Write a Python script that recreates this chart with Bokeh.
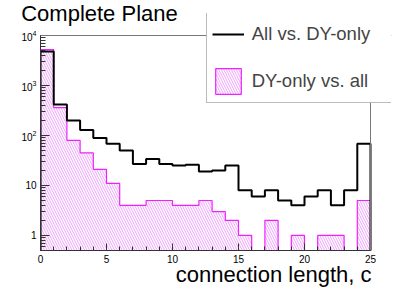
import numpy as np
from bokeh.plotting import figure
from bokeh.models import (Legend, LegendItem, LogTickFormatter, LogTicker,
                          FixedTicker, Title, Span, Range1d)
from bokeh.embed import file_html
from bokeh.resources import INLINE

# ---------------- data ----------------
bin_edges = list(range(0, 26))
all_vs_dy = [4800, 415, 200, 128, 89, 68, 50, 27, 34, 27, 25, 26, 19,
             20, 25, 8, 6, 8, 5, 4, 6, 8, 4, 8, 68]
dy_vs_all = [5250, 360, 80, 45, 21, 11, 4, 4, 5, 5, 4, 4, 5,
             3, 2, 1, 0, 2, 0, 1, 0, 1, 1, 0, 5]
x_ticks = [0, 5, 10, 15, 20, 25]
series_labels = ["All vs. DY-only", "DY-only vs. all"]
title_text = "Complete Plane"
x_title = "connection length, c"

Y_MIN, Y_MAX = 0.5, 1e4
X_MIN, X_MAX = bin_edges[0], bin_edges[-1]
FLOOR = Y_MIN / 100.0
FONT = "Liberation Sans"

# ---------------- layout (pixels) ----------------
W, H = 411, 295
AX_L, AX_R, AX_T, AX_B = 40, 370, 35, 250      # visible axes box
FR_T, FR_R = 13, 391                            # bokeh frame (room for legend)

# extend ranges so that the data box maps onto the visible axes box
x_end = X_MIN + (X_MAX - X_MIN) * (FR_R - AX_L) / (AX_R - AX_L)
dec = np.log10(Y_MAX) - np.log10(Y_MIN)
y_end = 10 ** (np.log10(Y_MIN) + dec * (AX_B - FR_T) / (AX_B - AX_T))


def step_path(edges, vals):
    e = np.asarray(edges, float)
    v = np.asarray(vals, float)
    v = np.where(v > 0, v, FLOOR)
    xs = np.concatenate([[e[0]], np.repeat(e, 2)[1:-1], [e[-1]]])
    ys = np.concatenate([[FLOOR], np.repeat(v, 2), [FLOOR]])
    return xs, ys


p = figure(width=W, height=H, x_range=Range1d(X_MIN, x_end),
           y_range=Range1d(Y_MIN, y_end), y_axis_type="log", title=None,
           output_backend="svg", toolbar_location=None,
           min_border_left=AX_L, min_border_right=W - FR_R,
           min_border_top=FR_T, min_border_bottom=H - AX_B)
p.background_fill_color = "white"
p.border_fill_color = "white"
p.xgrid.visible = False
p.ygrid.visible = False
p.outline_line_color = None

mx, my = step_path(bin_edges, dy_vs_all)
r_mag = p.patch(mx, my, fill_color=None, line_color="#ee22ff", line_width=1.2,
                hatch_pattern="left_diagonal_line", hatch_color="#dd44ff",
                hatch_alpha=0.5, hatch_scale=5, hatch_weight=1)

bx, by = step_path(bin_edges, all_vs_dy)
r_blk = p.line(bx, by, line_color="black", line_width=2)

# axes
for ax in (p.xaxis[0], p.yaxis[0]):
    ax.axis_line_color = "#333333"
    ax.major_tick_line_color = "#333333"
    ax.minor_tick_line_color = "#333333"
    ax.major_tick_out = 0
    ax.minor_tick_out = 0
    ax.major_label_text_font = FONT
    ax.major_label_text_font_size = "10px"
    ax.major_label_text_color = "black"

p.xaxis.ticker = FixedTicker(ticks=x_ticks, minor_ticks=bin_edges)
p.xaxis.bounds = (X_MIN, X_MAX)
p.xaxis.major_tick_in = 7
p.xaxis.minor_tick_in = 4
p.xaxis.major_label_standoff = 4

p.yaxis.ticker = LogTicker(num_minor_ticks=10)
p.yaxis.bounds = (Y_MIN, Y_MAX)
p.yaxis.formatter = LogTickFormatter(min_exponent=1)
p.yaxis.major_label_overrides = {10: "10"}
p.yaxis.major_tick_in = 9
p.yaxis.minor_tick_in = 5
p.yaxis.major_label_standoff = 4

# top and right edges of the axes box
p.add_layout(Span(location=Y_MAX, dimension="width", line_color="#777777",
                  line_width=1))
p.add_layout(Span(location=X_MAX, dimension="height", line_color="#777777",
                  line_width=1))

# title (above panel) & axis title (below panel)
p.add_layout(Title(text=title_text, align="left", offset=-19.3, standoff=-25,
                   text_font=FONT, text_font_size="22px",
                   text_font_style="normal", text_color="black"), "above")
p.add_layout(Title(text=x_title, align="right", offset=W - FR_R, standoff=-11,
                   text_font=FONT, text_font_size="22px",
                   text_font_style="normal", text_color="black"), "below")

legend = Legend(items=[LegendItem(label=series_labels[0], renderers=[r_blk]),
                       LegendItem(label=series_labels[1], renderers=[r_mag])],
                location=(165.7, 147.3), glyph_width=32, glyph_height=32,
                label_standoff=8, padding=5, spacing=15, label_width=135,
                label_text_font=FONT, label_text_font_size="18.5px",
                border_line_color="#777777", border_line_width=1,
                background_fill_color="white", background_fill_alpha=1.0,
                margin=0)
p.add_layout(legend)

open("out.html", "w").write(file_html(p, INLINE))
